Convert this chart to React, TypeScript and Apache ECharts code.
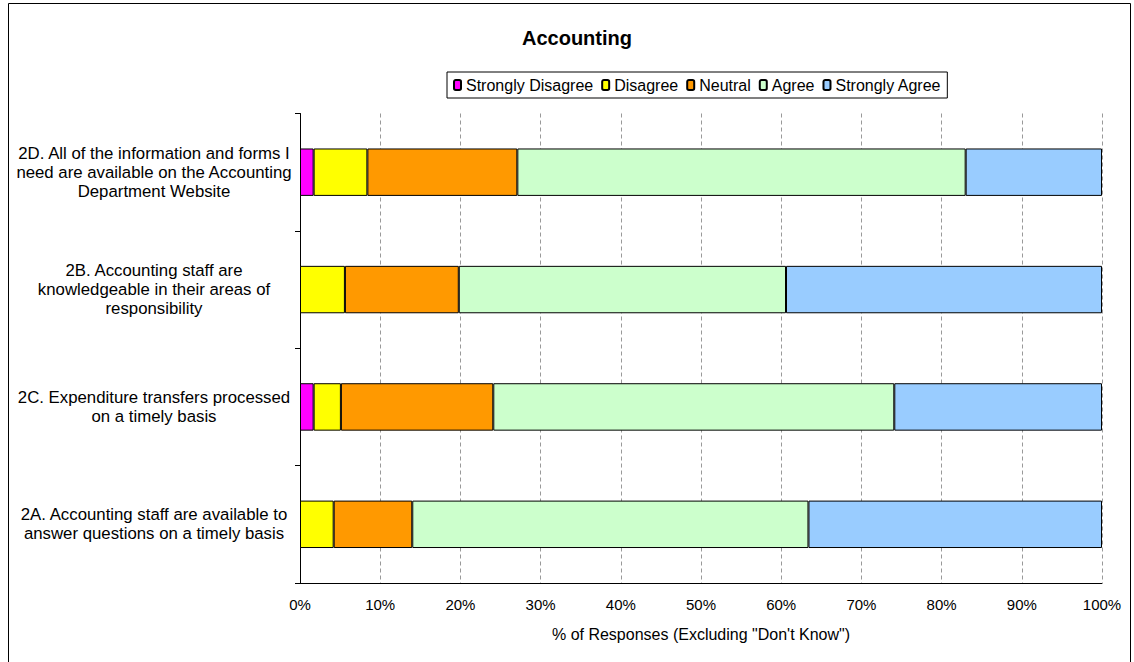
import React, { useEffect, useRef } from "react";
import * as echarts from "echarts";

const categories = [
  "2A. Accounting staff are available to\nanswer questions on a timely basis",
  "2C. Expenditure transfers processed\non a timely basis",
  "2B. Accounting staff are\nknowledgeable in their areas of\nresponsibility",
  "2D. All of the information and forms I\nneed are available on the Accounting\nDepartment Website",
];

const seriesNames = ["Strongly Disagree", "Disagree", "Neutral", "Agree", "Strongly Agree"];
const stronglyDisagree = [0, 1.7, 0, 1.7];
const disagree = [4.2, 3.4, 5.6, 6.7];
const neutral = [9.8, 19.0, 14.2, 18.7];
const agree = [49.4, 50.0, 40.8, 55.9];
const stronglyAgree = [36.6, 25.9, 39.4, 17.0];
const seriesColors = ["#FF00FF", "#FFFF00", "#FF9900", "#CCFFCC", "#99CCFF"];

const xTicks = { min: 0, max: 100, interval: 10 };
const titleText = "Accounting";
const xAxisTitle = "% of Responses (Excluding \"Don't Know\")";

const FONT = "'Liberation Sans', Arial, sans-serif";

export default function App() {
  const ref = useRef<HTMLDivElement>(null);
  useEffect(() => {
    if (!ref.current) return;
    const chart = echarts.init(ref.current, null, { renderer: "svg" });
    const allValues = [stronglyDisagree, disagree, neutral, agree, stronglyAgree];
    chart.setOption({
      animation: false,
      backgroundColor: "#fff",
      textStyle: { fontFamily: FONT, color: "#000" },
      title: {
        text: titleText,
        left: 572,
        top: 23,
        textAlign: "center",
        textStyle: { fontFamily: FONT, fontSize: 20, fontWeight: "bold", color: "#000" },
      },
      legend: {
        data: seriesNames,
        left: 447,
        top: 72,
        padding: [5, 6, 5, 6],
        itemWidth: 7,
        itemHeight: 10,
        itemGap: 8,
        backgroundColor: "#fff",
        borderColor: "#000",
        borderWidth: 1,
        textStyle: { fontFamily: FONT, fontSize: 16, color: "#000" },
      },
      grid: { left: 300, right: 32, top: 113.5, bottom: 79, containLabel: false },
      xAxis: {
        type: "value",
        min: xTicks.min,
        max: xTicks.max,
        interval: xTicks.interval,
        name: xAxisTitle,
        nameLocation: "middle",
        nameGap: 43,
        nameTextStyle: { fontFamily: FONT, fontSize: 16, color: "#000" },
        axisLine: { show: true, lineStyle: { color: "#000", width: 1 } },
        axisTick: { show: false },
        axisLabel: { formatter: "{value}%", fontFamily: FONT, fontSize: 15, color: "#000", margin: 14 },
        splitLine: { show: true, lineStyle: { color: "#999", type: [4, 3], width: 1 } },
      },
      yAxis: {
        type: "category",
        data: categories,
        axisLine: { show: true, lineStyle: { color: "#000", width: 1 } },
        axisTick: { show: true, length: 5, lineStyle: { color: "#000" } },
        axisLabel: {
          fontFamily: FONT,
          fontSize: 16.8,
          color: "#000",
          align: "center",
          margin: 146,
          lineHeight: 19,
        },
        splitLine: { show: false },
      },
      graphic: [
        {
          type: "rect",
          shape: { x: 8.5, y: 3.5, width: 1122, height: 700 },
          style: { fill: "none", stroke: "#000", lineWidth: 1 },
          silent: true,
          z: 100,
        },
      ],
      series: seriesNames.map((name, i) => ({
        name,
        type: "bar",
        stack: "total",
        barWidth: "40.4%",
        itemStyle: { color: seriesColors[i], borderColor: "#000", borderWidth: 1 },
        data: allValues[i].map((v) => (v === 0 ? null : v)),
      })),
    });
    return () => chart.dispose();
  }, []);
  return (
    <div
      ref={ref}
      style={{ position: "absolute", left: 0, top: 0, width: 1134, height: 662 }}
    />
  );
}
